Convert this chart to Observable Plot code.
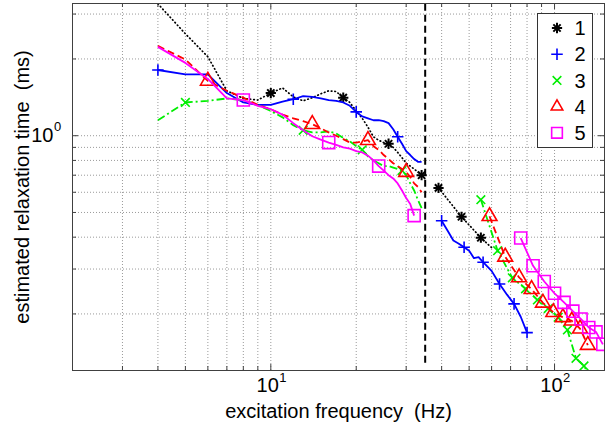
<!DOCTYPE html>
<html><head><meta charset="utf-8">
<script src="https://cdn.jsdelivr.net/npm/d3@7"></script>
<script src="https://cdn.jsdelivr.net/npm/@observablehq/plot@0.6"></script>
<style>
html,body{margin:0;padding:0;background:#fff;}
#chart{position:relative;width:605px;height:427px;font-family:Arial,"Liberation Sans",Helvetica,sans-serif;}
#legend{position:absolute;left:537px;top:13px;width:54px;height:133px;border:1px solid #333;background:#fff;}
#legend svg{display:block;}
</style></head><body><div id="chart"><div id="legend"></div></div>
<script>
// ---- data (frequency in Hz, relaxation time in ms); NaN separates the two frequency bands ----
const freq1 = [4,5,6,7,8,9,10,11,12,13,14,15,16,17,18,19,20,21,22,23,24,25,26,27,28,29,30,31,32,33,34, NaN, 39,47,55,60];
const tau1  = [3.29,2.51,2.04,1.50,1.40,1.38,1.47,1.54,1.42,1.37,1.41,1.46,1.50,1.49,1.41,1.35,1.25,1.17,1.08,0.99,0.96,0.94,0.93,0.90,0.86,0.82,0.78,0.76,0.74,0.72,0.70, NaN, 0.624,0.481,0.398,0.364];
const mark1 = [10,18,26,34,39,47,55];

const freq2 = [4,5,6,7,8,9,10,11,12,13,14,15,16,17,18,19,20,21,22,23,24,25,26,27,28,29,30,31,32,33,34, NaN, 40,42,44,46,48,50,52,54,56,60,64,68,72,76,80];
const tau2  = [1.81,1.74,1.74,1.47,1.35,1.32,1.32,1.36,1.39,1.43,1.42,1.40,1.38,1.37,1.35,1.31,1.24,1.19,1.17,1.15,1.15,1.14,1.12,1.06,0.99,0.93,0.87,0.84,0.81,0.79,0.79, NaN, 0.464,0.424,0.388,0.377,0.365,0.354,0.331,0.334,0.319,0.295,0.262,0.238,0.219,0.195,0.169];
const mark2 = [4,12,20,28,40,48,56,64,72,80];

const freq3 = [4,5,6,7,8,9,10,11,12,13,14,15,16,17,18,19,20,21,22,23,24,25,26,27,28,29,30,31,32,33,34, NaN, 55,63,71,79,87,95,103,111,119,127,135];
const tau3  = [1.15,1.35,1.37,1.40,1.38,1.32,1.25,1.18,1.10,1.05,1.03,1.03,1.04,1.02,0.98,0.95,0.91,0.88,0.83,0.80,0.78,0.76,0.76,0.75,0.74,0.73,0.70,0.65,0.61,0.56,0.52, NaN, 0.561,0.354,0.277,0.251,0.227,0.210,0.194,0.173,0.134,0.125,0.111];
const mark3 = [5,13,21,29,55,63,71,79,87,95,103,111,119,127];

const freq4 = [4,5,6,7,8,9,10,11,12,13,14,15,16,17,18,19,20,21,22,23,24,25,26,27,28,29,30,31,32,33,34, NaN, 59,67,75,83,91,99,107,115,123,131];
const tau4  = [2.25,1.99,1.64,1.50,1.41,1.32,1.27,1.21,1.17,1.14,1.11,1.07,1.03,1.00,0.97,0.94,0.94,0.95,0.96,0.91,0.88,0.84,0.81,0.78,0.76,0.74,0.72,0.69,0.65,0.63,0.60, NaN, 0.483,0.335,0.278,0.250,0.221,0.203,0.194,0.188,0.175,0.151];
const mark4 = [6,14,22,30,59,67,75,83,91,99,107,115,123,131];

const freq5 = [4,5,6,7,8,9,10,11,12,13,14,15,16,17,18,19,20,21,22,23,24,25,26,27,28,29,30,31,32, NaN, 76,84,92,100,108,116,124,132,140,148];
const tau5  = [2.23,1.93,1.67,1.40,1.38,1.31,1.27,1.21,1.12,1.05,0.995,0.965,0.94,0.92,0.90,0.89,0.87,0.86,0.835,0.80,0.76,0.73,0.70,0.68,0.65,0.61,0.57,0.54,0.486, NaN, 0.397,0.309,0.268,0.241,0.222,0.205,0.191,0.177,0.170,0.152];
const mark5 = [8,16,24,32,76,84,92,100,108,116,124,132,140,148];

const seriesNames = ["1","2","3","4","5"];
const cutoffFreq = [35];
const cutoffSpan = [0.128, 3.3];

const xGrid = [3,4,5,6,7,8,9,10,20,30,40,50,60,70,80,90,100];
const yGrid = [0.2,0.3,0.4,0.5,0.6,0.7,0.8,0.9,1,2,3];
const xMajor = [10,100];
const xMajorExp = ["1","2"];
const yMajor = [1];
const yMajorExp = ["0"];
const xLabel = "excitation frequency \u00a0(Hz)";
const yLabel = "estimated relaxation time \u00a0(ms)";

// ---- styles ----
const styles = [
  {color:"#000000", dash:"0.6,3", cap:"round", lw:1.7, sym:[["plus",3.4],["times",3.4]]},
  {color:"#0000ff", dash:null, cap:"butt", lw:1.8, sym:[["plus",3.8]]},
  {color:"#00ee00", dash:"8,3,2,3", cap:"butt", lw:1.8, sym:[["times",4.0]]},
  {color:"#ff0000", dash:"7,4", cap:"butt", lw:1.8, sym:[["triangle",5.5]]},
  {color:"#ff00ff", dash:null, cap:"butt", lw:1.8, sym:[["square",6.8]]}
];
const dataSets = [[freq1,tau1,mark1],[freq2,tau2,mark2],[freq3,tau3,mark3],[freq4,tau4,mark4],[freq5,tau5,mark5]];

const W = 605, H = 427, mL = 72, mR = 1, mT = 3, mB = 57;
const innerH = H - mT - mB, innerW = W - mL - mR;
const frameColor = "#404040";

const marks = [];
// grid
marks.push(Plot.ruleX(xGrid, {x: d => d, stroke: "#9a9a9a", strokeWidth: 1, strokeDasharray: "1,2"}));
marks.push(Plot.ruleY(yGrid, {y: d => d, stroke: "#9a9a9a", strokeWidth: 1, strokeDasharray: "1,2"}));

// series
dataSets.forEach(([fr, ta, mk], k) => {
  const st = styles[k];
  const rows = fr.map((f, i) => ({f, t: ta[i]}));
  const mrows = rows.filter(r => mk.includes(r.f));
  marks.push(Plot.line(rows, {x: "f", y: "t", stroke: st.color, strokeWidth: st.lw,
    strokeDasharray: st.dash || undefined, strokeLinecap: st.cap, strokeLinejoin: "round", clip: true}));
  st.sym.forEach(([s, r]) => {
    marks.push(Plot.dot(mrows, {x: "f", y: "t", symbol: s, r: r, stroke: st.color, fill: "none",
      strokeWidth: k === 0 ? 2 : 1.6, clip: true}));
  });
});

// cutoff line
marks.push(Plot.ruleX([{f: cutoffFreq[0], lo: cutoffSpan[0], hi: cutoffSpan[1]}],
  {x: "f", y1: "lo", y2: "hi", stroke: "#000", strokeWidth: 2, strokeDasharray: "7,4", clip: true}));

// ticks (inside, all four sides)
const tl = 4, tlMaj = 6;
const xMin = xGrid.filter(d => !xMajor.includes(d));
const yMin = yGrid.filter(d => !yMajor.includes(d));
marks.push(Plot.ruleX(xMin, {x: d => d, insetTop: innerH - tl, stroke: frameColor}));
marks.push(Plot.ruleX(xMin, {x: d => d, insetBottom: innerH - tl, stroke: frameColor}));
marks.push(Plot.ruleX(xMajor, {x: d => d, insetTop: innerH - tlMaj, stroke: frameColor}));
marks.push(Plot.ruleX(xMajor, {x: d => d, insetBottom: innerH - tlMaj, stroke: frameColor}));
marks.push(Plot.ruleY(yMin, {y: d => d, insetRight: innerW - tl, stroke: frameColor}));
marks.push(Plot.ruleY(yMin, {y: d => d, insetLeft: innerW - tl, stroke: frameColor}));
marks.push(Plot.ruleY(yMajor, {y: d => d, insetRight: innerW - tlMaj, stroke: frameColor}));
marks.push(Plot.ruleY(yMajor, {y: d => d, insetLeft: innerW - tlMaj, stroke: frameColor}));
marks.push(Plot.frame({stroke: frameColor, strokeWidth: 1}));

// tick labels (10 with superscript exponent)
const xLab = xMajor.map((v, i) => ({v, e: xMajorExp[i]}));
const yLab = yMajor.map((v, i) => ({v, e: yMajorExp[i]}));
marks.push(Plot.text(xLab, {x: "v", text: () => "10", frameAnchor: "bottom", dy: 21, dx: 8, textAnchor: "end", fontSize: 20, fill: "#000"}));
marks.push(Plot.text(xLab, {x: "v", text: "e", frameAnchor: "bottom", dy: 11, dx: 8.5, textAnchor: "start", fontSize: 13, fill: "#000"}));
marks.push(Plot.text(yLab, {y: "v", text: () => "10", frameAnchor: "left", dx: -19, dy: 0, textAnchor: "end", fontSize: 20, fill: "#000"}));
marks.push(Plot.text(yLab, {y: "v", text: "e", frameAnchor: "left", dx: -18.5, dy: -9, textAnchor: "start", fontSize: 13, fill: "#000"}));

// axis labels
marks.push(Plot.text([xLabel], {text: d => d, frameAnchor: "bottom", dy: 47, lineAnchor: "bottom", textAnchor: "middle", fontSize: 20, fill: "#000"}));
marks.push(Plot.text([yLabel], {text: d => d, frameAnchor: "left", dx: -44, rotate: -90, lineAnchor: "bottom", textAnchor: "middle", fontSize: 20, fill: "#000"}));

const chart = Plot.plot({
  width: W, height: H,
  marginLeft: mL, marginRight: mR, marginTop: mT, marginBottom: mB,
  x: {type: "log", domain: [2, 150], axis: null},
  y: {type: "log", domain: [0.12, 3.3], axis: null},
  style: {fontFamily: 'Arial, "Liberation Sans", Helvetica, sans-serif', background: "#fff", overflow: "visible"},
  marks
});
document.getElementById("chart").prepend(chart);

// legend (markers only, as in the reference)
const symMap = {plus: d3.symbolPlus, times: d3.symbolTimes, triangle: d3.symbolTriangle2, square: d3.symbolSquare2};
const leg = d3.select("#legend").append("svg").attr("width", 54).attr("height", 133)
  .style("font-family", 'Arial, "Liberation Sans", Helvetica, sans-serif');
seriesNames.forEach((name, i) => {
  const st = styles[i];
  const cy = 14 + i * 26.2;
  st.sym.forEach(([s, r]) => {
    leg.append("path").attr("transform", `translate(19,${cy})`)
      .attr("d", d3.symbol(symMap[s], Math.PI * r * r)())
      .attr("fill", "none").attr("stroke", st.color).attr("stroke-width", i === 0 ? 2 : 1.6);
  });
  leg.append("text").attr("x", 42).attr("y", cy).attr("dy", "0.36em")
    .attr("text-anchor", "middle").attr("font-size", 20).attr("fill", "#000").text(name);
});
</script></body></html>
